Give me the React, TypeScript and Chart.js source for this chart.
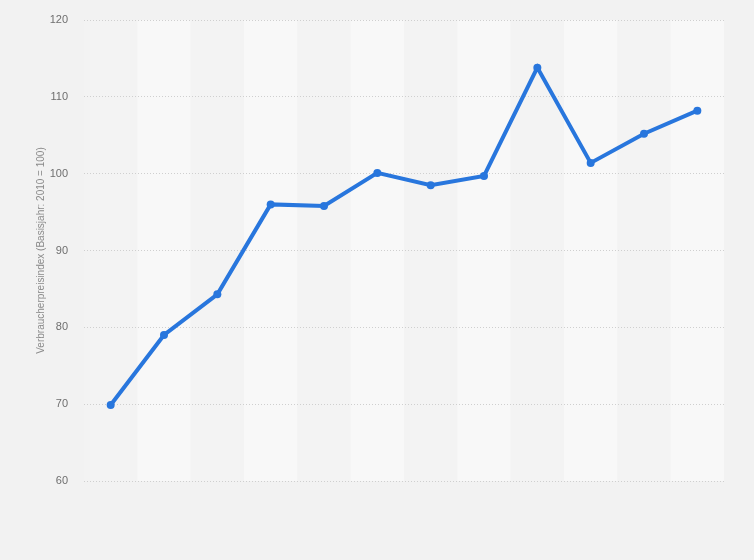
import React, { useEffect, useRef } from "react";
import { Chart, registerables } from "chart.js";

Chart.register(...registerables);

const categories: string[] = [
  "1", "2", "3", "4", "5", "6", "7", "8", "9", "10", "11", "12",
];
const values: number[] = [69.9, 79.0, 84.3, 96.0, 95.8, 100.1, 98.5, 99.7, 113.8, 101.4, 105.2, 108.2];
const yTicks: number[] = [60, 70, 80, 90, 100, 110, 120];
const yTitle = "Verbraucherpreisindex (Basisjahr: 2010 = 100)";

const stripePlugin = {
  id: "stripes",
  beforeDraw(chart: any) {
    const { ctx, chartArea, scales } = chart;
    const x = scales.x;
    ctx.save();
    ctx.fillStyle = "#f2f2f2";
    ctx.fillRect(0, 0, chart.width, chart.height);
    const n = categories.length;
    const half = (x.getPixelForValue(1) - x.getPixelForValue(0)) / 2;
    for (let i = 0; i < n; i++) {
      const c = x.getPixelForValue(i);
      ctx.fillStyle = i % 2 === 0 ? "#f3f3f3" : "#f8f8f8";
      ctx.fillRect(c - half, chartArea.top, half * 2, chartArea.bottom - chartArea.top);
    }
    ctx.restore();
  },
};

export default function App() {
  const ref = useRef<HTMLCanvasElement | null>(null);
  useEffect(() => {
    document.body.style.margin = "0";
    document.body.style.background = "#f2f2f2";
    if (!ref.current) return;
    const chart = new Chart(ref.current, {
      type: "line",
      data: {
        labels: categories,
        datasets: [
          {
            data: values,
            borderColor: "#2876dd",
            backgroundColor: "#2876dd",
            borderWidth: 4,
            pointRadius: 4,
            pointBackgroundColor: "#2876dd",
            pointBorderWidth: 0,
            tension: 0,
          },
        ],
      },
      options: {
        animation: false,
        responsive: false,
        maintainAspectRatio: false,
        layout: { padding: { left: 0, right: 30, top: 20, bottom: 79 } },
        plugins: { legend: { display: false }, tooltip: { enabled: false } },
        scales: {
          x: {
            display: false,
            offset: true,
            grid: { display: false },
          },
          y: {
            min: 60,
            max: 120,
            afterBuildTicks: (scale: any) => {
              scale.ticks = yTicks.map((v) => ({ value: v }));
            },
            afterFit: (scale: any) => {
              scale.width = 84;
              scale.paddingTop = 0;
              scale.paddingBottom = 0;
            },
            border: { display: false, dash: [1, 2] },
            grid: {
              color: "#cfcfcf",
              drawTicks: false,
              lineWidth: 1,
            },
            ticks: {
              padding: 16,
              color: "#6e6e6e",
              font: { family: "'Liberation Sans', Arial, sans-serif", size: 11 },
            },
            title: {
              display: true,
              text: yTitle,
              color: "#8a8a8a",
              padding: { top: 35, bottom: 0 },
              font: { family: "'Liberation Sans', Arial, sans-serif", size: 10 },
            },
          },
        },
      },
      plugins: [stripePlugin],
    });
    return () => chart.destroy();
  }, []);
  return <canvas ref={ref} width={754} height={560} style={{ display: "block" }} />;
}
